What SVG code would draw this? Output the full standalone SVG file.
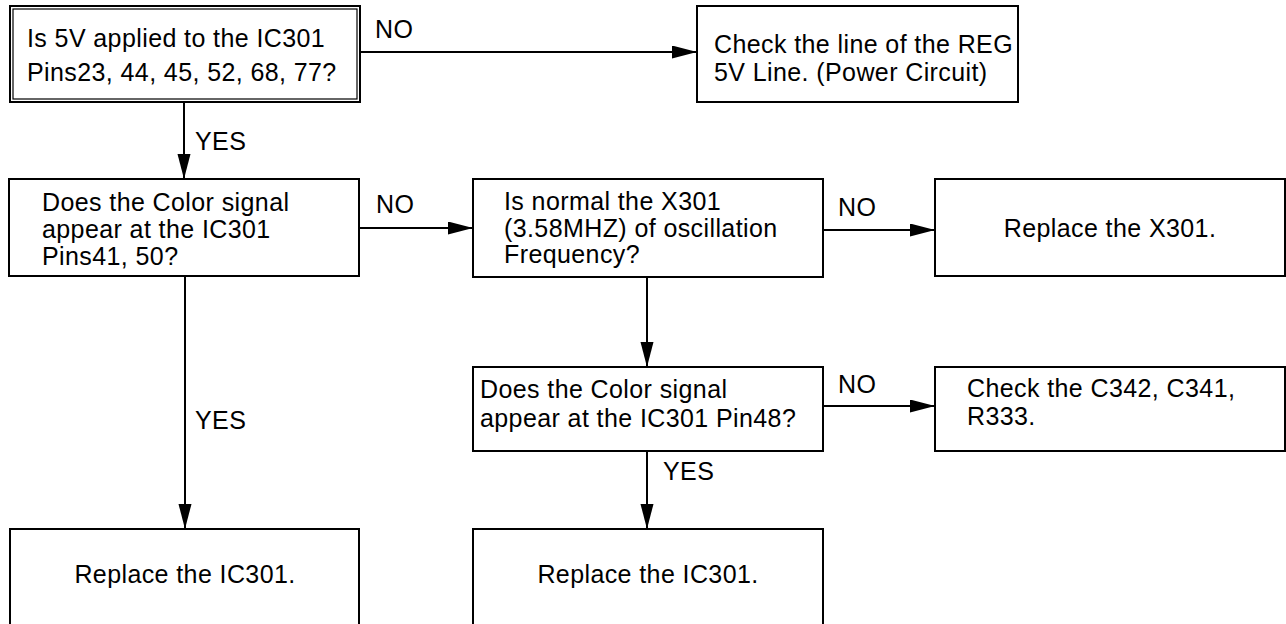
<svg xmlns="http://www.w3.org/2000/svg" width="1286" height="624" viewBox="0 0 1286 624">
<style>
  .box { fill: #fff; stroke: #000; stroke-width: 2; }
  .inner { fill: none; stroke: #000; stroke-width: 1.2; }
  .t { font-family: "Liberation Sans", Arial, sans-serif; font-size: 25px; letter-spacing: 0.4px; fill: #000; }
  .c { text-anchor: middle; }
  .ln { stroke: #000; stroke-width: 2; fill: none; marker-end: url(#ah); }
</style>
<defs>
  <marker id="ah" markerUnits="userSpaceOnUse" markerWidth="26" markerHeight="14" refX="25" refY="6.5" orient="auto">
    <path d="M0,0 L25,6.5 L0,13 Z" fill="#000"/>
  </marker>
</defs>
<rect width="1286" height="624" fill="#fff"/>

<g id="connectors">
  <line class="ln" x1="360" y1="52" x2="697" y2="52"/>
  <line class="ln" x1="184" y1="102" x2="184" y2="179"/>
  <line class="ln" x1="359" y1="228" x2="473" y2="228"/>
  <line class="ln" x1="823" y1="230" x2="935" y2="230"/>
  <line class="ln" x1="185" y1="276" x2="185" y2="529"/>
  <line class="ln" x1="647" y1="277" x2="647" y2="367"/>
  <line class="ln" x1="823" y1="406" x2="935" y2="406"/>
  <line class="ln" x1="647" y1="451" x2="647" y2="529"/>
  <text class="t" x="375" y="38">NO</text>
  <text class="t" x="195" y="150">YES</text>
  <text class="t" x="376" y="213">NO</text>
  <text class="t" x="838" y="216">NO</text>
  <text class="t" x="195" y="429">YES</text>
  <text class="t" x="838" y="393">NO</text>
  <text class="t" x="663" y="480">YES</text>
</g>

<g id="n1">
  <rect class="box" x="10" y="6" width="350" height="96"/>
  <rect class="inner" x="13" y="9" width="344" height="90"/>
  <text class="t" x="27" y="47">Is 5V applied to the IC301</text>
  <text class="t" x="27" y="81">Pins23, 44, 45, 52, 68, 77?</text>
</g>

<g id="n2">
  <rect class="box" x="697" y="6" width="321" height="96"/>
  <text class="t" x="714" y="53">Check the line of the REG</text>
  <text class="t" x="714" y="81">5V Line. (Power Circuit)</text>
</g>

<g id="n3">
  <rect class="box" x="9" y="179" width="350" height="97"/>
  <text class="t" x="42" y="211">Does the Color signal</text>
  <text class="t" x="42" y="238">appear at the IC301</text>
  <text class="t" x="42" y="265">Pins41, 50?</text>
</g>

<g id="n4">
  <rect class="box" x="473" y="179" width="350" height="98"/>
  <text class="t" x="504" y="210">Is normal the X301</text>
  <text class="t" x="504" y="237">(3.58MHZ) of oscillation</text>
  <text class="t" x="504" y="263">Frequency?</text>
</g>

<g id="n5">
  <rect class="box" x="935" y="179" width="350" height="97"/>
  <text class="t c" x="1110" y="237">Replace the X301.</text>
</g>

<g id="n6">
  <rect class="box" x="473" y="367" width="350" height="84"/>
  <text class="t" x="480" y="398">Does the Color signal</text>
  <text class="t" x="480" y="427">appear at the IC301 Pin48?</text>
</g>

<g id="n7">
  <rect class="box" x="935" y="367" width="350" height="84"/>
  <text class="t" x="967" y="397">Check the C342, C341,</text>
  <text class="t" x="967" y="425">R333.</text>
</g>

<g id="n8">
  <rect class="box" x="10" y="529" width="349" height="110"/>
  <text class="t c" x="185" y="583">Replace the IC301.</text>
</g>

<g id="n9">
  <rect class="box" x="473" y="529" width="350" height="110"/>
  <text class="t c" x="648" y="583">Replace the IC301.</text>
</g>
</svg>
